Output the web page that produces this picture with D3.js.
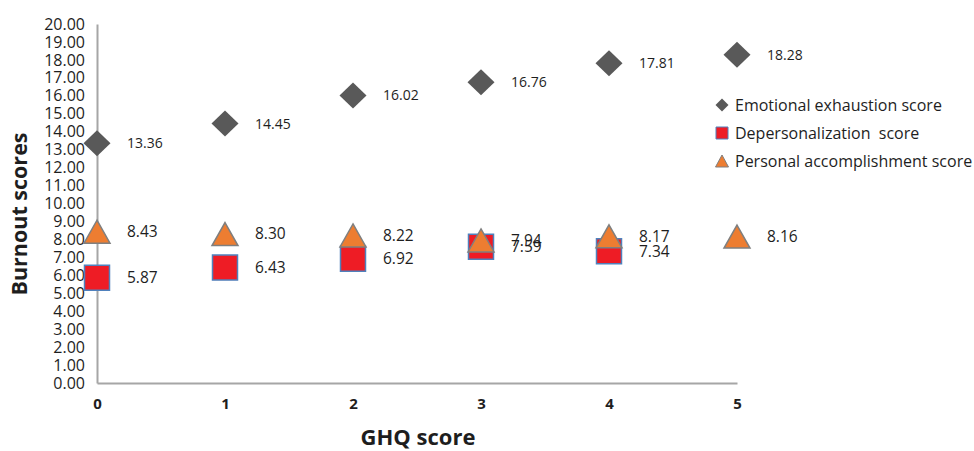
<!DOCTYPE html>
<html>
<head>
<meta charset="utf-8">
<script src="https://cdn.jsdelivr.net/npm/d3@7"></script>
<style>
  html, body { margin: 0; padding: 0; background: #fff; }
  svg { display: block; }
  text { font-family: "Open Sans", "Noto Sans", sans-serif; }
</style>
</head>
<body>
<svg id="chart" width="974" height="451"></svg>
<script>
// ---- data ----
const ghqScores = [0, 1, 2, 3, 4, 5];
const emotionalExhaustion = [13.36, 14.45, 16.02, 16.76, 17.81, 18.28];
const depersonalization = [5.87, 6.43, 6.92, 7.59, 7.34, null];
const personalAccomplishment = [8.43, 8.30, 8.22, 7.94, 8.17, 8.16];
const yTicks = d3.range(0, 21, 1);
const seriesNames = ["Emotional exhaustion score", "Depersonalization  score", "Personal accomplishment score"];

// ---- layout ----
const svg = d3.select("#chart");
const plotLeft = 97, plotRight = 737, plotTop = 24, plotBottom = 383;

const x = d3.scaleLinear().domain([0, 5]).range([plotLeft, plotRight]);
const y = d3.scaleLinear().domain([0, 20]).range([plotBottom, plotTop]);

const axisColor = "#a6a6a6";
const textColor = "#1e1e1e";

// y axis
const yAxis = svg.append("g")
  .attr("transform", `translate(${plotLeft},0)`)
  .call(d3.axisLeft(y).tickValues(yTicks).tickFormat(d3.format(".2f")).tickSize(0).tickPadding(12));
yAxis.select(".domain").attr("stroke", axisColor).attr("stroke-width", 2);
yAxis.selectAll("text").attr("font-size", 16).attr("fill", textColor)
  .style("font-family", "'Open Sans', sans-serif");

// x axis
const xAxis = svg.append("g")
  .attr("transform", `translate(0,${plotBottom})`)
  .call(d3.axisBottom(x).tickValues(ghqScores).tickFormat(d3.format("d")).tickSize(0).tickPadding(15));
xAxis.select(".domain").attr("stroke", axisColor).attr("stroke-width", 2);
xAxis.selectAll("text").attr("font-size", 15).attr("font-weight", "bold").attr("fill", textColor)
  .style("font-family", "'Open Sans', sans-serif");

// axis titles
svg.append("text")
  .attr("x", 418).attr("y", 445)
  .attr("text-anchor", "middle")
  .attr("font-size", 22).attr("font-weight", "bold").attr("fill", textColor)
  .text("GHQ score");
svg.append("text")
  .attr("transform", "translate(27,214) rotate(-90)")
  .attr("text-anchor", "middle")
  .attr("font-size", 21.5).attr("font-weight", "bold").attr("fill", textColor)
  .text("Burnout scores");

// ---- marker shapes ----
function diamondPath(w, h) {
  return `M0,${-h/2}L${w/2},0L0,${h/2}L${-w/2},0Z`;
}
function squarePath(s) {
  return `M${-s/2},${-s/2}H${s/2}V${s/2}H${-s/2}Z`;
}
function trianglePath(w, h) {
  return `M0,${-h/2}L${w/2},${h/2}L${-w/2},${h/2}Z`;
}

const styles = [
  { path: diamondPath(27, 26), fill: "#595959", stroke: "none", sw: 0, legendPath: diamondPath(13, 13) },
  { path: squarePath(25), fill: "#ee1c25", stroke: "#4f81bd", sw: 1.5, legendPath: squarePath(12) },
  { path: trianglePath(26, 23), fill: "#ed7d31", stroke: "#7f7f7f", sw: 1.5, legendPath: trianglePath(13, 12) }
];
const allSeries = [emotionalExhaustion, depersonalization, personalAccomplishment];

allSeries.forEach((vals, i) => {
  const pts = ghqScores.map((g, j) => ({ g, v: vals[j] })).filter(d => d.v != null);
  const grp = svg.append("g");
  grp.selectAll("path").data(pts).join("path")
    .attr("d", styles[i].path)
    .attr("transform", d => `translate(${x(d.g)},${y(d.v)})`)
    .attr("fill", styles[i].fill)
    .attr("stroke", styles[i].stroke)
    .attr("stroke-width", styles[i].sw);
});

// data labels
allSeries.forEach((vals, i) => {
  const pts = ghqScores.map((g, j) => ({ g, v: vals[j] })).filter(d => d.v != null);
  svg.append("g").selectAll("text").data(pts).join("text")
    .attr("x", d => x(d.g) + 30)
    .attr("y", d => y(d.v))
    .attr("dy", "0.35em")
    .attr("font-size", i === 0 ? 14 : 15.5)
    .attr("fill", textColor)
    .text(d => d3.format(".2f")(d.v));
});

// legend
const legend = svg.append("g");
const legY = [105, 133, 161];
seriesNames.forEach((name, i) => {
  legend.append("path")
    .attr("d", styles[i].legendPath)
    .attr("transform", `translate(722,${legY[i]})`)
    .attr("fill", styles[i].fill)
    .attr("stroke", styles[i].stroke)
    .attr("stroke-width", i === 0 ? 0 : 1);
  legend.append("text")
    .attr("x", 735).attr("y", legY[i]).attr("dy", "0.35em")
    .attr("font-size", 16).attr("fill", textColor)
    .style("white-space", "pre")
    .text(name);
});
</script>
</body>
</html>
